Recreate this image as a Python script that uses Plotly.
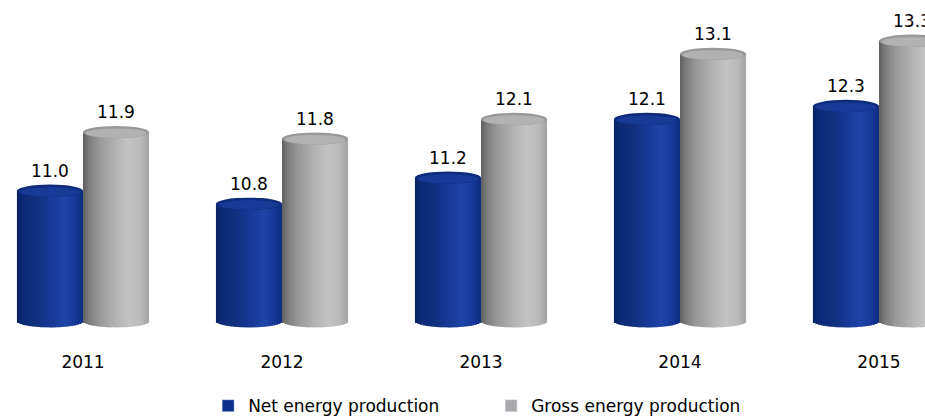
import math
import plotly.graph_objects as go

# ---- data -------------------------------------------------------------
years = ["2011", "2012", "2013", "2014", "2015"]
net_production = [11.0, 10.8, 11.2, 12.1, 12.3]
gross_production = [11.9, 11.8, 12.1, 13.1, 13.3]
series_names = ["Net energy production", "Gross energy production"]

# ---- styling ----------------------------------------------------------
FONT = "DejaVu Sans"
TEXT_COLOR = "#000000"
BASE = 9.0          # value where the cylinders stand
BAR_W = 0.332       # width of one cylinder in category units
ELL = 0.095         # half height of the elliptic caps (value units)
SLICES = 26         # vertical strips used to shade each cylinder

blue_stops = [(0.0, "#0a2260"), (0.08, "#0c2a74"), (0.3, "#10307f"),
              (0.55, "#183b99"), (0.72, "#1f45aa"), (0.88, "#16399a"),
              (1.0, "#0c2c7c")]
gray_stops = [(0.0, "#5c5c5c"), (0.07, "#787878"), (0.25, "#999999"),
              (0.5, "#b3b3b3"), (0.7, "#c3c3c3"), (0.88, "#b9b9b9"),
              (1.0, "#a2a2a2")]


def hex_rgb(h):
    h = h.lstrip("#")
    return tuple(int(h[i:i + 2], 16) for i in (0, 2, 4))


def shade(stops, t):
    for (t0, c0), (t1, c1) in zip(stops, stops[1:]):
        if t0 <= t <= t1:
            f = (t - t0) / (t1 - t0) if t1 > t0 else 0
            a, b = hex_rgb(c0), hex_rgb(c1)
            r, g, bl = (round(a[i] + (b[i] - a[i]) * f) for i in range(3))
            return f"rgb({r},{g},{bl})"
    return stops[-1][1]


fig = go.Figure()
xs = list(range(len(years)))


def add_cylinders(values, offset0, stops):
    step = BAR_W / SLICES
    for k in range(SLICES):
        tc = (k + 0.5) / SLICES
        u = 2 * tc - 1
        drop = ELL * math.sqrt(max(0.0, 1 - u * u))
        base = BASE - drop
        fig.add_trace(go.Bar(
            x=xs,
            y=[v - base for v in values],
            base=[base] * len(values),
            offset=offset0 + k * step,
            width=step * (1.35 if k < SLICES - 1 else 1.0),
            marker=dict(color=shade(stops, tc), line=dict(width=0)),
            showlegend=False,
            hoverinfo="skip",
        ))


add_cylinders(net_production, -BAR_W, blue_stops)
add_cylinders(gross_production, 0.0, gray_stops)

# legend entries
fig.add_trace(go.Bar(x=[None], y=[None], name=series_names[0],
                     marker_color="#0b2f8a"))
fig.add_trace(go.Bar(x=[None], y=[None], name=series_names[1],
                     marker_color="#a9a9ab"))

# elliptic top caps
shapes = []
for values, off, rim, face in [
        (net_production, -BAR_W, "#0e2a7a", "#173a97"),
        (gross_production, 0.0, "#999999", "#b2b2b2")]:
    for i, v in zip(xs, values):
        x0, x1 = i + off, i + off + BAR_W
        shapes.append(dict(type="circle", xref="x", yref="y", layer="above",
                           x0=x0, x1=x1, y0=v - ELL, y1=v + ELL,
                           fillcolor=rim, line=dict(width=0)))
        shapes.append(dict(type="circle", xref="x", yref="y", layer="above",
                           x0=x0 + BAR_W * 0.04, x1=x1 - BAR_W * 0.04,
                           y0=v - ELL * 0.95, y1=v + ELL * 0.6,
                           fillcolor=face, line=dict(width=0)))

# value labels above each cylinder
annotations = []
for values, off in [(net_production, -BAR_W / 2), (gross_production, BAR_W / 2)]:
    for i, v in zip(xs, values):
        annotations.append(dict(x=i + off, y=v, xref="x", yref="y",
                                text=f"{v:.1f}", showarrow=False,
                                yanchor="middle", yshift=20,
                                font=dict(family=FONT, size=17, color=TEXT_COLOR)))

fig.update_layout(
    width=925, height=417,
    margin=dict(l=0, r=0, t=0, b=72),
    paper_bgcolor="white", plot_bgcolor="white",
    barmode="overlay",
    shapes=shapes,
    annotations=annotations,
    showlegend=True,
    legend=dict(orientation="h", xref="container", yref="container",
                x=0.225, xanchor="left", y=0.026, yanchor="middle",
                entrywidth=238, font=dict(family=FONT, size=17, color=TEXT_COLOR),
                traceorder="normal"),
    xaxis=dict(range=[-0.4171, 4.2312], tickvals=xs, ticktext=years,
               showgrid=False, zeroline=False, showline=False, ticks="",
               ticklabelstandoff=5,
               tickfont=dict(family=FONT, size=17, color=TEXT_COLOR),
               fixedrange=True),
    yaxis=dict(range=[8.635, 13.926], visible=False, fixedrange=True),
)

fig.write_html("out.html")
